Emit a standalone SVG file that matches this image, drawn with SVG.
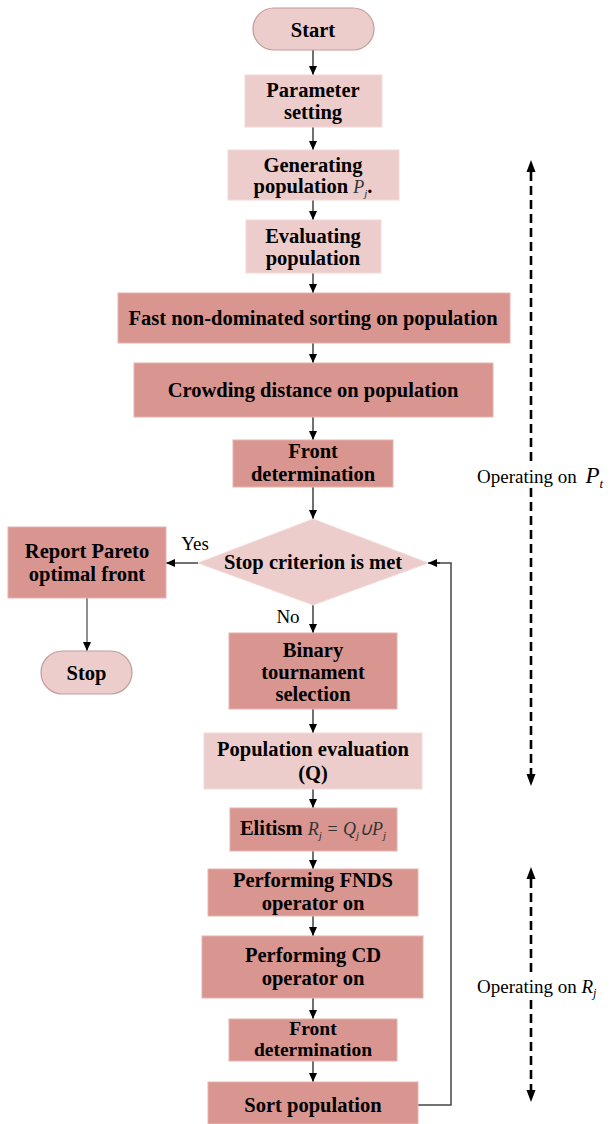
<svg xmlns="http://www.w3.org/2000/svg" width="610" height="1124" viewBox="0 0 610 1124">
<style>
.lt{fill:#EDCDCB;stroke:#F2DAD8;stroke-width:1}
.dk{fill:#D9958F;stroke:#E6B2AE;stroke-width:1}
.pill{fill:#EDCDCB;stroke:#BF9E9C;stroke-width:1.2}
text{font-family:"Liberation Serif","Times New Roman",serif;fill:#000}
.b{font-size:20.5px;font-weight:bold;text-anchor:middle}
.r{font-size:19px}
.m{font-style:italic;font-weight:normal;fill:#333}
.cn{stroke:#111;stroke-width:1.2;fill:none;marker-end:url(#ah)}
.fb{stroke:#444;stroke-width:1.5;fill:none}
.ds{stroke:#000;stroke-width:2.6;fill:none;stroke-dasharray:9 5}
</style>
<defs>
<marker id="ah" markerUnits="userSpaceOnUse" markerWidth="10" markerHeight="10" refX="9" refY="4" orient="auto">
<path d="M0,0 L9,4 L0,8 Z" fill="#000"/>
</marker>
</defs>

<g id="connectors">
<line class="cn" x1="313" y1="50" x2="313" y2="75"/>
<line class="cn" x1="313" y1="127" x2="313" y2="150"/>
<line class="cn" x1="313" y1="200" x2="313" y2="220"/>
<line class="cn" x1="313" y1="273" x2="313" y2="293"/>
<line class="cn" x1="313" y1="343" x2="313" y2="363"/>
<line class="cn" x1="313" y1="417" x2="313" y2="440"/>
<line class="cn" x1="313" y1="487" x2="313" y2="519"/>
<line class="cn" x1="198" y1="563" x2="166" y2="563"/>
<line class="cn" x1="87" y1="598" x2="87" y2="651" style="stroke:#444"/>
<line class="cn" x1="313" y1="605" x2="313" y2="633"/>
<line class="cn" x1="313" y1="709" x2="313" y2="733"/>
<line class="cn" x1="313" y1="789" x2="313" y2="808"/>
<line class="cn" x1="313" y1="851" x2="313" y2="869"/>
<line class="cn" x1="313" y1="916" x2="313" y2="936"/>
<line class="cn" x1="313" y1="998" x2="313" y2="1019"/>
<line class="cn" x1="313" y1="1061" x2="313" y2="1082"/>
<polyline class="fb" points="418,1105 451,1105 451,563 429,563"/>
<line class="cn" x1="440" y1="563" x2="428" y2="563"/>
<text class="r" x="195" y="550" text-anchor="middle">Yes</text>
<text class="r" x="288" y="623" text-anchor="middle">No</text>
</g>

<g id="span-pt">
<line class="ds" x1="531" y1="172" x2="531" y2="466"/>
<line class="ds" x1="531" y1="488" x2="531" y2="774"/>
<path d="M531,160 L526.5,172 L535.5,172 Z" fill="#000"/>
<path d="M531,786 L526.5,774 L535.5,774 Z" fill="#000"/>
<text class="r" x="477" y="483">Operating on <tspan font-style="italic" font-size="23px" dx="4">P</tspan><tspan font-style="italic" font-size="13px" dy="5">t</tspan></text>
</g>

<g id="span-rj">
<line class="ds" x1="531" y1="879" x2="531" y2="977"/>
<line class="ds" x1="531" y1="1000" x2="531" y2="1090"/>
<path d="M531,867 L526.5,879 L535.5,879 Z" fill="#000"/>
<path d="M531,1102 L526.5,1090 L535.5,1090 Z" fill="#000"/>
<text class="r" x="477" y="993">Operating on <tspan font-style="italic" font-size="19px">R</tspan><tspan font-style="italic" font-size="12px" dy="4">j</tspan></text>
</g>

<g id="start"><rect class="pill" x="253" y="8" width="121" height="42" rx="21"/><text class="b" x="313" y="37">Start</text></g>
<g id="param"><rect class="lt" x="245" y="75" width="137" height="52"/><text class="b" x="313" y="97">Parameter</text><text class="b" x="313" y="119">setting</text></g>
<g id="generate"><rect class="lt" x="228" y="150" width="171" height="50"/><text class="b" x="313" y="172">Generating</text><text class="b" x="313" y="193">population <tspan class="m" font-size="18px">P</tspan><tspan class="m" font-size="11px" dy="4">j</tspan><tspan dy="-4">.</tspan></text></g>
<g id="evaluate"><rect class="lt" x="246" y="220" width="135" height="53"/><text class="b" x="313" y="243">Evaluating</text><text class="b" x="313" y="265">population</text></g>
<g id="fnds"><rect class="dk" x="118" y="293" width="392" height="50"/><text class="b" x="313" y="325">Fast non-dominated sorting on population</text></g>
<g id="crowding"><rect class="dk" x="134" y="363" width="359" height="54"/><text class="b" x="313" y="397">Crowding distance on population</text></g>
<g id="front1"><rect class="dk" x="233" y="440" width="160" height="47"/><text class="b" x="313" y="458">Front</text><text class="b" x="313" y="481">determination</text></g>
<g id="decision"><polygon class="lt" points="313,519 428,563 313,605 198,563"/><text class="b" x="313" y="569">Stop criterion is met</text></g>
<g id="report"><rect class="dk" x="8" y="527" width="158" height="71"/><text class="b" x="87" y="558">Report Pareto</text><text class="b" x="87" y="581">optimal front</text></g>
<g id="stop"><rect class="pill" x="41" y="651" width="91" height="43" rx="21.5"/><text class="b" x="86.5" y="680">Stop</text></g>
<g id="binary"><rect class="dk" x="229" y="633" width="168" height="76"/><text class="b" x="313" y="657">Binary</text><text class="b" x="313" y="679">tournament</text><text class="b" x="313" y="701">selection</text></g>
<g id="popeval"><rect class="lt" x="204" y="733" width="218" height="56"/><text class="b" x="313" y="756">Population evaluation</text><text class="b" x="313" y="780">(Q)</text></g>
<g id="elitism"><rect class="dk" x="230" y="808" width="167" height="43"/><text class="b" x="313" y="835">Elitism <tspan class="m" font-size="18px">R</tspan><tspan class="m" font-size="11px" dy="4">j</tspan><tspan class="m" font-size="18px" font-style="normal" dy="-4"> = </tspan><tspan class="m" font-size="18px">Q</tspan><tspan class="m" font-size="11px" dy="4">j</tspan><tspan class="m" font-size="18px" font-style="normal" dy="-4">∪</tspan><tspan class="m" font-size="18px">P</tspan><tspan class="m" font-size="11px" dy="4">j</tspan></text></g>
<g id="fnds2"><rect class="dk" x="208" y="869" width="210" height="47"/><text class="b" x="313" y="887">Performing FNDS</text><text class="b" x="313" y="910">operator on</text></g>
<g id="cd2"><rect class="dk" x="202" y="936" width="221" height="62"/><text class="b" x="313" y="962">Performing CD</text><text class="b" x="313" y="985">operator on</text></g>
<g id="front2"><rect class="dk" x="229" y="1019" width="168" height="42"/><text class="b" x="313" y="1035" style="font-size:19.5px">Front</text><text class="b" x="313" y="1056" style="font-size:19.5px">determination</text></g>
<g id="sort"><rect class="dk" x="208" y="1082" width="210" height="42"/><text class="b" x="313" y="1112">Sort population</text></g>
</svg>
